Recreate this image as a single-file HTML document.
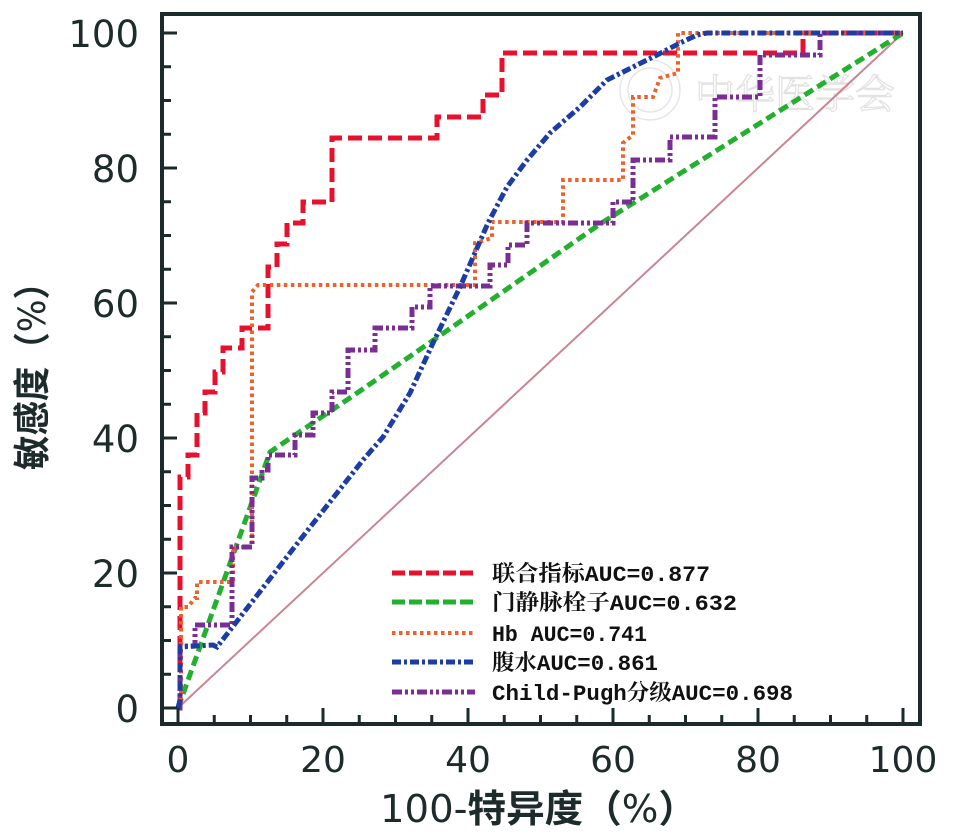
<!DOCTYPE html>
<html>
<head>
<meta charset="utf-8">
<style>
html,body{margin:0;padding:0;background:#fff;}
svg{display:block;}
</style>
</head>
<body>
<svg width="953" height="839" viewBox="0 0 953 839" xmlns="http://www.w3.org/2000/svg">
<rect x="0" y="0" width="953" height="839" fill="#ffffff"/>

<!-- watermark -->
<g fill="none" stroke="#e4e4e4" stroke-width="1.5" opacity="0.9">
  <circle cx="650" cy="90" r="30"/>
  <circle cx="650" cy="90" r="22"/>
</g>
<text x="695" y="108" font-family="'Noto Serif CJK SC', serif" font-size="40" fill="none" stroke="#e2e2e2" stroke-width="1.2" textLength="200" lengthAdjust="spacingAndGlyphs">中华医学会</text>

<!-- diagonal reference -->
<line x1="178" y1="708" x2="903" y2="33" stroke="#c98595" stroke-width="2"/>

<!-- red: 联合指标 -->
<polyline fill="none" stroke="#e8112d" stroke-width="5" stroke-dasharray="14 6" stroke-linejoin="miter"
points="178,708 180,708 180,477 188,477 188,455 197,455 197,413 205,413 205,392 215,392 215,372 223,372 223,348 242,348 242,328 268,328 268,267 277,267 277,244 287,244 287,223 303,223 303,202 332,202 332,138 437,138 437,117 483,117 483,95 502,95 502,53 803,53 803,33 903,33"/>

<!-- green: 门静脉栓子 -->
<polyline fill="none" stroke="#22b02e" stroke-width="5" stroke-dasharray="10 5"
points="178,708 270,452 360,391 435,339 540,266 600,224 903,33"/>

<!-- orange dotted: Hb -->
<polyline fill="none" stroke="#f0602a" stroke-width="4" stroke-dasharray="3.5 3.5"
points="178,708 181,700 181,607 188,607 195,598 197,598 197,582 233,582 233,547 252,547 252,292 258,285 475,285 475,243 492,238 492,222 563,222 563,180 623,180 623,143 633,135 633,97 653,97 660,78 678,73 678,33 903,33"/>

<!-- purple: Child-Pugh -->
<polyline fill="none" stroke="#7b2d96" stroke-width="5" stroke-dasharray="10 3 3 3 3 3"
points="178,708 180,708 180,646 195,646 195,625 232,625 232,547 252,547 252,478 262,478 262,470 268,470 268,455 295,455 295,435 313,435 313,413 332,413 332,392 348,392 348,350 375,350 375,328 412,328 412,307 430,307 430,286 490,286 490,265 508,265 508,245 527,245 527,223 613,223 613,202 633,202 633,160 670,160 670,137 715,137 715,97 760,97 760,55 820,55 820,33 903,33"/>

<!-- blue: 腹水 -->
<polyline fill="none" stroke="#1c3ca6" stroke-width="5" stroke-dasharray="9 3 3 3"
points="178,708 180,700 180,647 213,645 217,647 300,540 363,460 383,437 410,393 433,343 460,287 488,223 507,187 527,160 550,133 580,107 607,80 627,70 657,55 680,43 697,35 707,33 903,33"/>

<!-- frame -->
<rect x="162" y="14" width="758" height="710" fill="none" stroke="#1b2a2a" stroke-width="4"/>

<!-- y ticks -->
<g stroke="#1b2a2a" stroke-width="3">
  <line x1="162" y1="708" x2="177" y2="708"/>
  <line x1="162" y1="674.25" x2="171" y2="674.25"/>
  <line x1="162" y1="640.5" x2="171" y2="640.5"/>
  <line x1="162" y1="606.75" x2="171" y2="606.75"/>
  <line x1="162" y1="573" x2="177" y2="573"/>
  <line x1="162" y1="539.25" x2="171" y2="539.25"/>
  <line x1="162" y1="505.5" x2="171" y2="505.5"/>
  <line x1="162" y1="471.75" x2="171" y2="471.75"/>
  <line x1="162" y1="438" x2="177" y2="438"/>
  <line x1="162" y1="404.25" x2="171" y2="404.25"/>
  <line x1="162" y1="370.5" x2="171" y2="370.5"/>
  <line x1="162" y1="336.75" x2="171" y2="336.75"/>
  <line x1="162" y1="303" x2="177" y2="303"/>
  <line x1="162" y1="269.25" x2="171" y2="269.25"/>
  <line x1="162" y1="235.5" x2="171" y2="235.5"/>
  <line x1="162" y1="201.75" x2="171" y2="201.75"/>
  <line x1="162" y1="168" x2="177" y2="168"/>
  <line x1="162" y1="134.25" x2="171" y2="134.25"/>
  <line x1="162" y1="100.5" x2="171" y2="100.5"/>
  <line x1="162" y1="66.75" x2="171" y2="66.75"/>
  <line x1="162" y1="33" x2="177" y2="33"/>
</g>
<!-- x ticks -->
<g stroke="#1b2a2a" stroke-width="3">
  <line x1="178" y1="724" x2="178" y2="708"/>
  <line x1="214.25" y1="724" x2="214.25" y2="715"/>
  <line x1="250.5" y1="724" x2="250.5" y2="715"/>
  <line x1="286.75" y1="724" x2="286.75" y2="715"/>
  <line x1="323" y1="724" x2="323" y2="708"/>
  <line x1="359.25" y1="724" x2="359.25" y2="715"/>
  <line x1="395.5" y1="724" x2="395.5" y2="715"/>
  <line x1="431.75" y1="724" x2="431.75" y2="715"/>
  <line x1="468" y1="724" x2="468" y2="708"/>
  <line x1="504.25" y1="724" x2="504.25" y2="715"/>
  <line x1="540.5" y1="724" x2="540.5" y2="715"/>
  <line x1="576.75" y1="724" x2="576.75" y2="715"/>
  <line x1="613" y1="724" x2="613" y2="708"/>
  <line x1="649.25" y1="724" x2="649.25" y2="715"/>
  <line x1="685.5" y1="724" x2="685.5" y2="715"/>
  <line x1="721.75" y1="724" x2="721.75" y2="715"/>
  <line x1="758" y1="724" x2="758" y2="708"/>
  <line x1="794.25" y1="724" x2="794.25" y2="715"/>
  <line x1="830.5" y1="724" x2="830.5" y2="715"/>
  <line x1="866.75" y1="724" x2="866.75" y2="715"/>
  <line x1="903" y1="724" x2="903" y2="708"/>
</g>

<!-- y tick labels -->
<g font-family="'DejaVu Sans', 'Liberation Sans', sans-serif" font-size="37" fill="#1e2b2b" text-anchor="end">
  <text x="139" y="47">100</text>
  <text x="139" y="182">80</text>
  <text x="139" y="317">60</text>
  <text x="139" y="452">40</text>
  <text x="139" y="587">20</text>
  <text x="139" y="722">0</text>
</g>
<!-- x tick labels -->
<g font-family="'DejaVu Sans', 'Liberation Sans', sans-serif" font-size="36" fill="#1e2b2b" text-anchor="middle">
  <text x="178" y="772">0</text>
  <text x="323" y="772">20</text>
  <text x="468" y="772">40</text>
  <text x="613" y="772">60</text>
  <text x="758" y="772">80</text>
  <text x="903" y="772">100</text>
</g>

<!-- x axis label -->
<text x="380" y="822" font-family="'DejaVu Sans', 'Noto Sans CJK SC', sans-serif" font-size="38" fill="#1e2b2b" textLength="317" lengthAdjust="spacingAndGlyphs">100-<tspan font-family="'Noto Sans CJK SC', sans-serif" font-weight="bold">特异度（</tspan>%<tspan font-family="'Noto Sans CJK SC', sans-serif" font-weight="bold">）</tspan></text>

<!-- y axis label -->
<text transform="translate(45,470) rotate(-90)" x="0" y="0" font-family="'Noto Sans CJK SC', sans-serif" font-weight="bold" font-size="37" fill="#1e2b2b" textLength="205" lengthAdjust="spacingAndGlyphs">敏感度（<tspan font-family="'DejaVu Sans', sans-serif" font-weight="normal">%</tspan>）</text>

<!-- legend -->
<line x1="392" y1="573" x2="475" y2="573" stroke="#e8112d" stroke-width="5" stroke-dasharray="13 4"/>
<line x1="392" y1="602" x2="475" y2="602" stroke="#22b02e" stroke-width="5" stroke-dasharray="13 4"/>
<line x1="392" y1="633" x2="475" y2="633" stroke="#f0602a" stroke-width="4" stroke-dasharray="3.5 3.5"/>
<line x1="392" y1="662" x2="475" y2="662" stroke="#1c3ca6" stroke-width="5" stroke-dasharray="9 3 3 3"/>
<line x1="392" y1="692" x2="475" y2="692" stroke="#7b2d96" stroke-width="5" stroke-dasharray="10 3 3 3 3 3"/>

<g font-family="'Liberation Mono', 'Noto Serif CJK SC', serif" font-size="22" fill="#111" font-weight="bold">
  <text x="492" y="581" textLength="218" lengthAdjust="spacingAndGlyphs">联合指标AUC=0.877</text>
  <text x="492" y="610" textLength="245" lengthAdjust="spacingAndGlyphs">门静脉栓子AUC=0.632</text>
  <text x="492" y="641" textLength="155" lengthAdjust="spacingAndGlyphs">Hb AUC=0.741</text>
  <text x="492" y="670" textLength="166" lengthAdjust="spacingAndGlyphs">腹水AUC=0.861</text>
  <text x="492" y="700" textLength="301" lengthAdjust="spacingAndGlyphs">Child-Pugh分级AUC=0.698</text>
</g>
</svg>
</body>
</html>
